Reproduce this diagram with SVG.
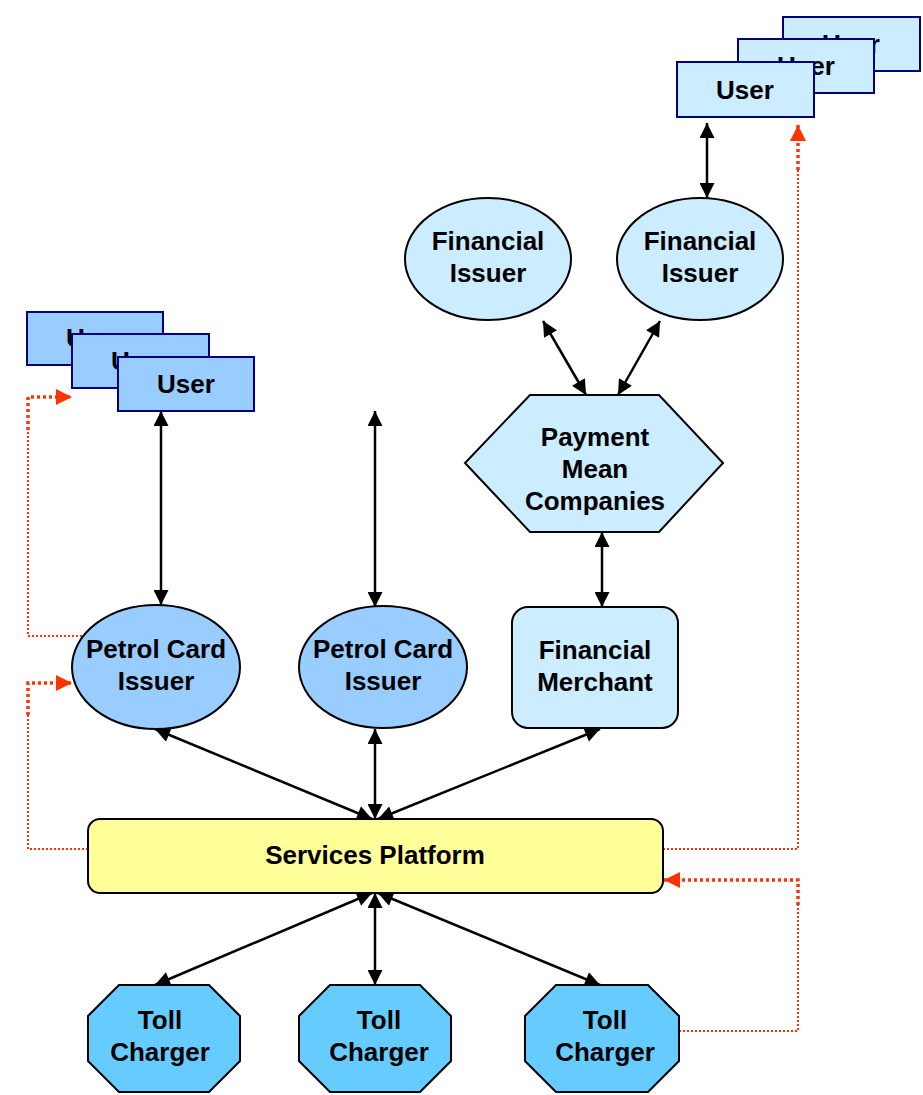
<svg xmlns="http://www.w3.org/2000/svg" width="923" height="1095" viewBox="0 0 923 1095">
<defs>
<style>
text{font-family:"Liberation Sans",Arial,sans-serif;font-weight:bold;font-size:26px;text-anchor:middle;fill:#000}
.n{stroke:#000;stroke-width:2}
.u{stroke:#000080;stroke-width:2}
.lb{fill:#CCECFF}
.mb{fill:#99CCFF}
.tb{fill:#66CCFF}
.yl{fill:#FFFF99}
.c{stroke:#000;stroke-width:2.5;fill:none;marker-start:url(#ah);marker-end:url(#ah)}
.d{stroke:#FF3300;stroke-width:2;stroke-dasharray:2 2;fill:none}
.dt{stroke:#FF3300;stroke-width:3.5;stroke-dasharray:3 3;fill:none}
</style>
<marker id="ah" viewBox="0 0 10 10" refX="10" refY="5" markerWidth="17" markerHeight="15" markerUnits="userSpaceOnUse" orient="auto-start-reverse">
<path d="M0,0 L10,5 L0,10 z" fill="#000"/>
</marker>
<marker id="rh" viewBox="0 0 10 10" refX="10" refY="5" markerWidth="16" markerHeight="16" markerUnits="userSpaceOnUse" orient="auto">
<path d="M0,0 L10,5 L0,10 z" fill="#FF3300"/>
</marker>
</defs>

<g id="connectors">
<line class="c" x1="707" y1="123" x2="707" y2="198"/>
<line class="c" x1="543" y1="321" x2="586" y2="395"/>
<line class="c" x1="660" y1="321" x2="618" y2="395"/>
<line class="c" x1="602" y1="532" x2="602" y2="607"/>
<line class="c" x1="161" y1="411" x2="161" y2="605"/>
<line class="c" x1="375" y1="411" x2="375" y2="607"/>
<line class="c" x1="155" y1="729" x2="372" y2="819"/>
<line class="c" x1="375" y1="729" x2="375" y2="819"/>
<line class="c" x1="600" y1="729" x2="378" y2="819"/>
<line class="c" x1="372" y1="893" x2="155" y2="985"/>
<line class="c" x1="375" y1="893" x2="375" y2="985"/>
<line class="c" x1="378" y1="893" x2="600" y2="985"/>
<path class="d" d="M82,636 H28 V430"/>
<path class="dt" d="M28,430 V397 H72" marker-end="url(#rh)"/>
<path class="d" d="M88,849 H28 V715"/>
<path class="dt" d="M28,715 V683 H72" marker-end="url(#rh)"/>
<path class="d" d="M663,849 H798 V170"/>
<path class="dt" d="M798,170 V125" marker-end="url(#rh)"/>
<path class="d" d="M679,1031 H798 V905"/>
<path class="dt" d="M798,905 V880 H664" marker-end="url(#rh)"/>
</g>

<g id="users-top">
<rect class="u lb" x="783" y="17" width="137" height="54"/>
<text x="851" y="53">User</text>
<rect class="u lb" x="738" y="39" width="136" height="54"/>
<text x="806" y="75">User</text>
<rect class="u lb" x="677" y="62" width="137" height="55"/>
<text x="745" y="99">User</text>
</g>

<g id="users-left">
<rect class="u mb" x="27" y="312" width="136" height="53"/>
<text x="95" y="347">User</text>
<rect class="u mb" x="72" y="334" width="137" height="54"/>
<text x="140" y="370">User</text>
<rect class="u mb" x="118" y="357" width="136" height="54"/>
<text x="186" y="393">User</text>
</g>

<g id="financial-issuer-1">
<ellipse class="n lb" cx="488" cy="259" rx="83" ry="61"/>
<text x="488" y="250">Financial</text>
<text x="488" y="282">Issuer</text>
</g>

<g id="financial-issuer-2">
<ellipse class="n lb" cx="700" cy="259" rx="83" ry="61"/>
<text x="700" y="250">Financial</text>
<text x="700" y="282">Issuer</text>
</g>

<g id="payment-mean-companies">
<polygon class="n lb" points="530,395 659,395 723,463 659,532 530,532 465,463"/>
<text x="595" y="446">Payment</text>
<text x="595" y="478">Mean</text>
<text x="595" y="510">Companies</text>
</g>

<g id="financial-merchant">
<rect class="n lb" x="512" y="607" width="166" height="121" rx="16"/>
<text x="595" y="659">Financial</text>
<text x="595" y="691">Merchant</text>
</g>

<g id="petrol-card-issuer-1">
<ellipse class="n mb" cx="156" cy="667" rx="84" ry="62"/>
<text x="156" y="658">Petrol Card</text>
<text x="156" y="690">Issuer</text>
</g>

<g id="petrol-card-issuer-2">
<ellipse class="n mb" cx="383" cy="667" rx="84" ry="61"/>
<text x="383" y="658">Petrol Card</text>
<text x="383" y="690">Issuer</text>
</g>

<g id="services-platform">
<rect class="n yl" x="88" y="819" width="575" height="74" rx="12"/>
<text x="375" y="864">Services Platform</text>
</g>

<g id="toll-charger-1">
<polygon class="n tb" points="119,985 209,985 240,1016 240,1061 209,1092 119,1092 88,1061 88,1016"/>
<text x="160" y="1029">Toll</text>
<text x="160" y="1061">Charger</text>
</g>

<g id="toll-charger-2">
<polygon class="n tb" points="330,985 420,985 451,1016 451,1061 420,1092 330,1092 299,1061 299,1016"/>
<text x="379" y="1029">Toll</text>
<text x="379" y="1061">Charger</text>
</g>

<g id="toll-charger-3">
<polygon class="n tb" points="556,985 648,985 679,1016 679,1061 648,1092 556,1092 525,1061 525,1016"/>
<text x="605" y="1029">Toll</text>
<text x="605" y="1061">Charger</text>
</g>
</svg>
